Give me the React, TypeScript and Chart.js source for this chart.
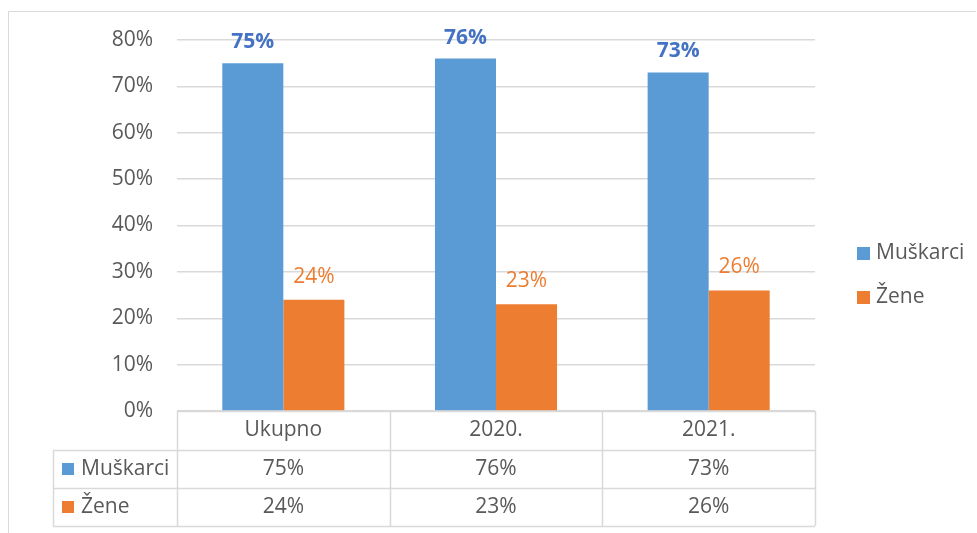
import React, { useEffect, useRef } from "react";
import { Chart, registerables } from "chart.js";

Chart.register(...registerables);

const categories = ["Ukupno", "2020.", "2021."];
const seriesNames = ["Muškarci", "Žene"];
const muskarci = [75, 76, 73];
const zene = [24, 23, 26];
const yTicks = [0, 10, 20, 30, 40, 50, 60, 70, 80];

const BLUE = "#5B9BD5";
const ORANGE = "#ED7D31";
const GRID = "#D9D9D9";
const TEXT = "#595959";
const FONT = "'Open Sans', 'Noto Sans', sans-serif";

const extras = {
  id: "excelExtras",
  beforeDraw(chart: any) {
    const ctx = chart.ctx;
    ctx.save();
    ctx.fillStyle = "#ffffff";
    ctx.fillRect(0, 0, chart.width, chart.height);
    ctx.strokeStyle = GRID;
    ctx.lineWidth = 1;
    ctx.beginPath();
    ctx.moveTo(8.5, chart.height);
    ctx.lineTo(8.5, 11.5);
    ctx.lineTo(chart.width - 1, 11.5);
    ctx.stroke();
    ctx.restore();
  },
  afterDatasetsDraw(chart: any) {
    const ctx = chart.ctx;
    const area = chart.chartArea;
    const xs = chart.scales.x;
    ctx.save();

    // data labels
    const colors = [BLUE, ORANGE];
    const labelColors = ["#4472C4", ORANGE];
    chart.data.datasets.forEach((ds: any, di: number) => {
      const meta = chart.getDatasetMeta(di);
      meta.data.forEach((bar: any, i: number) => {
        ctx.fillStyle = labelColors[di];
        ctx.font = (di === 0 ? "bold " : "") + "21px " + FONT;
        ctx.textAlign = "center";
        ctx.textBaseline = "middle";
        ctx.fillText(ds.data[i] + "%", bar.x, bar.y - (di === 0 ? 21 : 23));
      });
    });

    // data table
    const n = categories.length;
    const left = area.left;
    const right = area.right;
    const catW = (right - left) / n;
    const top = area.bottom;
    const headerH = 39;
    const rowH = 38;
    const legendLeft = 53;
    const y1 = top + headerH;
    const y2 = y1 + rowH;
    const y3 = y2 + rowH;

    ctx.strokeStyle = GRID;
    ctx.lineWidth = 1.5;
    ctx.beginPath();
    ctx.moveTo(left, top + 0.5);
    ctx.lineTo(right, top + 0.5);
    [y1, y2, y3].forEach((y) => {
      ctx.moveTo(legendLeft, y + 0.5);
      ctx.lineTo(right, y + 0.5);
    });
    ctx.moveTo(legendLeft + 0.5, y1);
    ctx.lineTo(legendLeft + 0.5, y3);
    for (let i = 0; i <= n; i++) {
      const x = Math.round(left + i * catW) + 0.5;
      ctx.moveTo(x, top);
      ctx.lineTo(x, y3);
    }
    ctx.stroke();

    ctx.font = "21px " + FONT;
    ctx.fillStyle = TEXT;
    ctx.textAlign = "center";
    ctx.textBaseline = "middle";
    categories.forEach((c, i) => {
      const cx = xs.getPixelForValue(i);
      ctx.fillText(c, cx, top + headerH / 2);
    });
    const rows = [muskarci, zene];
    rows.forEach((vals, r) => {
      const cy = y1 + rowH * r + rowH / 2;
      vals.forEach((v, i) => {
        ctx.fillStyle = TEXT;
        ctx.textAlign = "center";
        ctx.fillText(v + "%", xs.getPixelForValue(i), cy);
      });
      ctx.fillStyle = colors[r];
      ctx.fillRect(62, Math.round(cy) - 6, 12, 12);
      ctx.fillStyle = TEXT;
      ctx.textAlign = "left";
      ctx.fillText(seriesNames[r], 81, cy);
    });

    // right legend
    const legendY = [253, 297];
    seriesNames.forEach((name, i) => {
      ctx.fillStyle = colors[i];
      ctx.fillRect(857, legendY[i] - 6, 13, 13);
      ctx.fillStyle = TEXT;
      ctx.textAlign = "left";
      ctx.textBaseline = "middle";
      ctx.fillText(name, 876, legendY[i]);
    });

    ctx.restore();
  },
};

export default function App() {
  const ref = useRef<HTMLCanvasElement | null>(null);
  useEffect(() => {
    if (!ref.current) return;
    const chart = new Chart(ref.current, {
      type: "bar",
      data: {
        labels: categories,
        datasets: [
          {
            label: seriesNames[0],
            data: muskarci,
            backgroundColor: BLUE,
            categoryPercentage: 0.574,
            barPercentage: 1,
          },
          {
            label: seriesNames[1],
            data: zene,
            backgroundColor: ORANGE,
            categoryPercentage: 0.574,
            barPercentage: 1,
          },
        ],
      },
      options: {
        responsive: false,
        animation: false,
        devicePixelRatio: 1,
        layout: { padding: { left: 0, right: 162, top: 40, bottom: 122 } },
        plugins: { legend: { display: false }, tooltip: { enabled: false } },
        scales: {
          x: { display: false },
          y: {
            min: 0,
            max: 80,
            afterFit: (scale: any) => {
              scale.width = 177;
            },
            afterBuildTicks: (scale: any) => {
              scale.ticks = yTicks.map((v) => ({ value: v }));
            },
            border: { display: false },
            grid: { color: GRID, lineWidth: 1.5, drawTicks: false },
            ticks: {
              padding: 24,
              color: TEXT,
              font: { family: FONT, size: 21 },
              callback: (v: any) => v + "%",
            },
          },
        },
      },
      plugins: [extras],
    });
    return () => chart.destroy();
  }, []);
  return (
    <div style={{ position: "fixed", left: 0, top: 0, width: 977, height: 533, background: "#fff" }}>
      <canvas ref={ref} width={977} height={533} style={{ width: 977, height: 533, display: "block" }} />
    </div>
  );
}
